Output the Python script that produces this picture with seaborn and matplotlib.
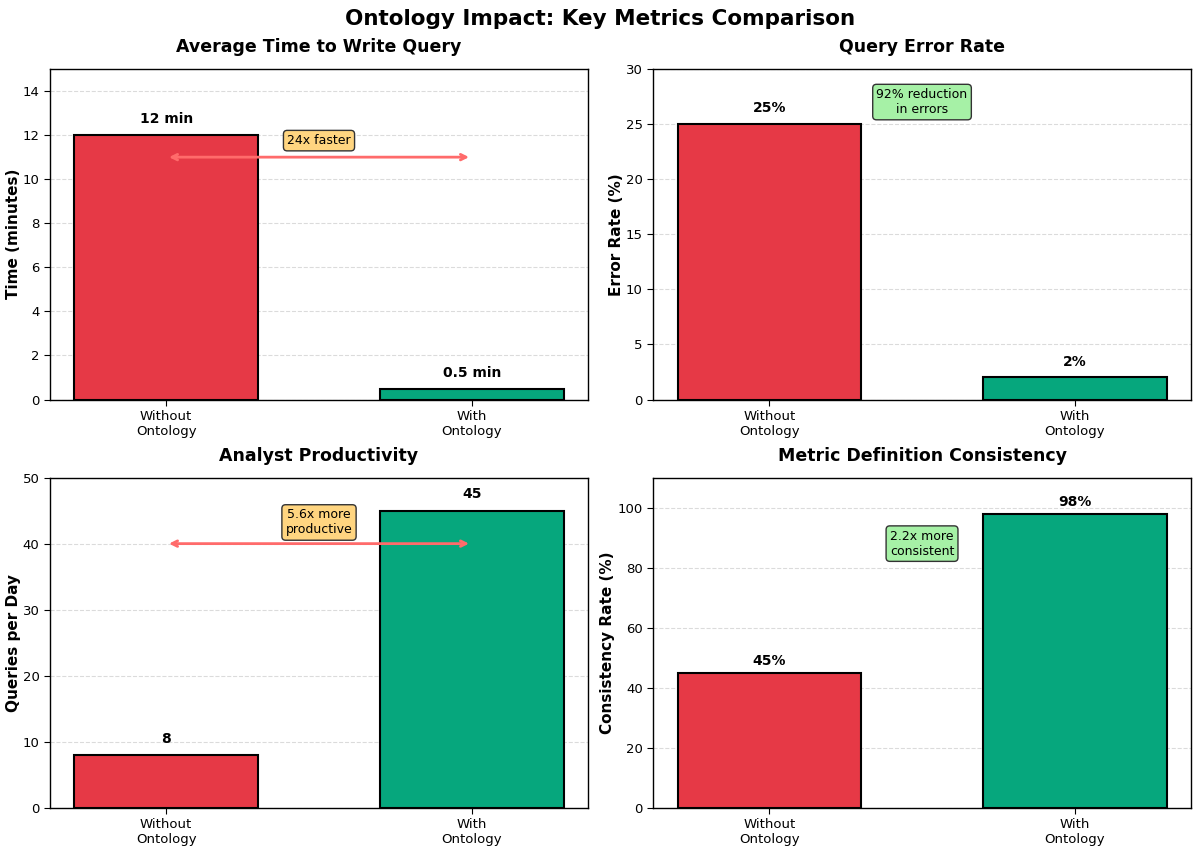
import matplotlib
matplotlib.use("Agg")
import matplotlib.pyplot as plt
import seaborn as sns
import pandas as pd

sns.set_style("white")
plt.rcParams['font.family'] = ['DejaVu Sans']
plt.rcParams.update({"text.color": "black", "axes.labelcolor": "black",
                     "xtick.color": "black", "ytick.color": "black",
                     "axes.edgecolor": "black"})

categories = ["Without\nOntology", "With\nOntology"]
colors = ["#E63946", "#06A77D"]

time_values = [12, 0.5]
time_labels = ["12 min", "0.5 min"]
error_values = [25, 2]
error_labels = ["25%", "2%"]
prod_values = [8, 45]
prod_labels = ["8", "45"]
cons_values = [45, 98]
cons_labels = ["45%", "98%"]

panels = [
    dict(title="Average Time to Write Query", ylabel="Time (minutes)", values=time_values,
         labels=time_labels, ylim=15, off=0.4, note="24x faster", note_xy=(0.5, 11.75),
         note_fc="#FFD580", arrow_y=11.0),
    dict(title="Query Error Rate", ylabel="Error Rate (%)", values=error_values,
         labels=error_labels, ylim=30, off=0.8, note="92% reduction\nin errors", note_xy=(0.5, 27.0),
         note_fc="#A6F1A6", arrow_y=None),
    dict(title="Analyst Productivity", ylabel="Queries per Day", values=prod_values,
         labels=prod_labels, ylim=50, off=1.4, note="5.6x more\nproductive", note_xy=(0.5, 43.2),
         note_fc="#FFD580", arrow_y=40),
    dict(title="Metric Definition Consistency", ylabel="Consistency Rate (%)", values=cons_values,
         labels=cons_labels, ylim=110, off=1.5, note="2.2x more\nconsistent", note_xy=(0.5, 88),
         note_fc="#A6F1A6", arrow_y=None),
]

fig, axes = plt.subplots(2, 2, figsize=(12, 8.52), dpi=100)
fig.subplots_adjust(left=0.0417, right=0.9925, top=0.919, bottom=0.0516, wspace=0.121, hspace=0.236)
for ax, p in zip(axes.flat, panels):
    df = pd.DataFrame({"cat": categories, "val": p["values"]})
    sns.barplot(data=df, x="cat", y="val", hue="cat", palette=colors, legend=False,
                width=0.6, edgecolor="black", linewidth=1.5, saturation=1, ax=ax, zorder=2)
    ax.set_xlim(-0.38, 1.38)
    ax.set_ylim(0, p["ylim"])
    ax.set_title(p["title"], fontsize=12.5, fontweight="bold", pad=12)
    ax.set_ylabel(p["ylabel"], fontsize=11, fontweight="bold", labelpad=1.5)
    ax.set_xlabel("")
    ax.yaxis.grid(True, linestyle="--", color="#999999", alpha=0.35, zorder=0)
    ax.set_axisbelow(True)
    ax.tick_params(axis="both", labelsize=9.5, length=4, bottom=True, left=True)
    for s in ax.spines.values():
        s.set_visible(True)
        s.set_color("black")
        s.set_linewidth(1.0)
    for i, (v, lab) in enumerate(zip(p["values"], p["labels"])):
        ax.text(i, v + p["off"], lab, ha="center", va="bottom", fontsize=10, fontweight="bold")
    if p["arrow_y"] is not None:
        ax.annotate("", xy=(1, p["arrow_y"]), xytext=(0, p["arrow_y"]),
                    arrowprops=dict(arrowstyle="<->", color="#FF6B6B", lw=2), zorder=5)
    ax.text(p["note_xy"][0], p["note_xy"][1], p["note"], ha="center", va="center", fontsize=9,
            bbox=dict(boxstyle="round,pad=0.3", facecolor=p["note_fc"], edgecolor="#333333"), zorder=6)

fig.suptitle("Ontology Impact: Key Metrics Comparison", fontsize=15.5, fontweight="bold", y=0.99)
fig.savefig("out.png", dpi=100)
